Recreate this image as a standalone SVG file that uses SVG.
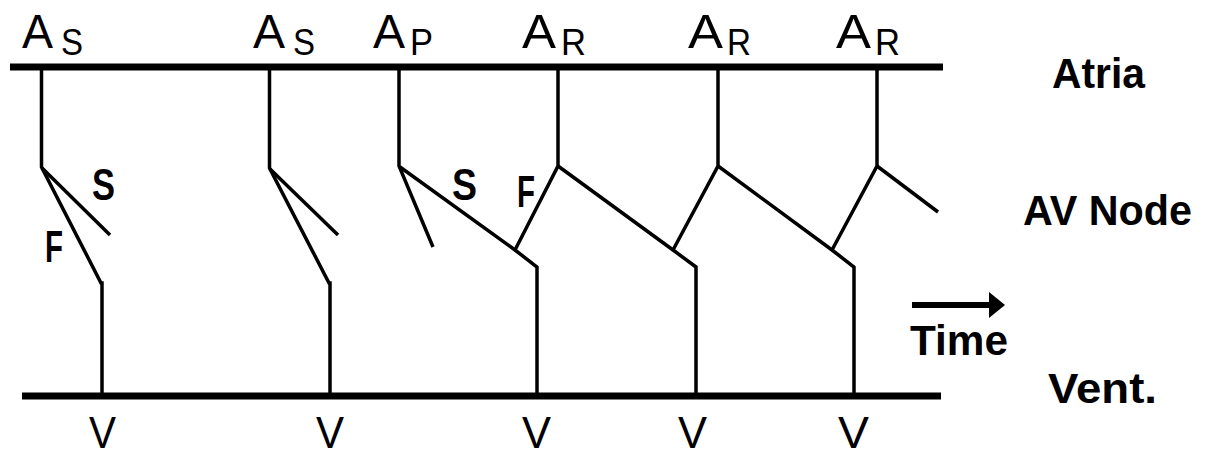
<svg xmlns="http://www.w3.org/2000/svg" width="1208" height="457" viewBox="0 0 1208 457">
<style>
.bar{stroke:#000;stroke-width:7;fill:none}
.ln{stroke:#000;stroke-width:3.5;fill:none;stroke-linejoin:miter}
.a{font-family:"Liberation Sans",Arial,sans-serif;font-size:48px;fill:#000}
.v{font-family:"Liberation Sans",Arial,sans-serif;font-size:44px;fill:#000}
.sub{font-family:"Liberation Sans",Arial,sans-serif;font-size:37px;fill:#000}
.lb{font-family:"Liberation Sans",Arial,sans-serif;font-size:43px;font-weight:bold;fill:#000}
.sf{font-family:"Liberation Sans",Arial,sans-serif;font-size:44px;font-weight:bold;fill:#000}
</style>
<rect width="1208" height="457" fill="#fff"/>
<g id="atria"><line class="bar" x1="10" y1="67" x2="943" y2="67"/><text class="lb" x="1052" y="88" textLength="93" lengthAdjust="spacingAndGlyphs">Atria</text></g>
<g id="vent"><line class="bar" x1="22" y1="396" x2="941" y2="396"/><text class="lb" x="1048" y="403" textLength="109" lengthAdjust="spacingAndGlyphs">Vent.</text></g>
<g id="avnode"><text class="lb" x="1023" y="225" textLength="169" lengthAdjust="spacingAndGlyphs">AV Node</text></g>
<g id="time">
<line x1="912" y1="305" x2="992" y2="305" stroke="#000" stroke-width="6"/>
<polygon points="989,292 1005,305 989,318" fill="#000"/>
<text class="lb" x="910" y="355" textLength="98" lengthAdjust="spacingAndGlyphs">Time</text>
</g>
<g id="labels-top">
<text class="a" x="22" y="48" textLength="31" lengthAdjust="spacingAndGlyphs">A</text><text class="sub" x="61" y="55" textLength="22" lengthAdjust="spacingAndGlyphs">S</text>
<text class="a" x="253" y="48" textLength="32" lengthAdjust="spacingAndGlyphs">A</text><text class="sub" x="293" y="55" textLength="22" lengthAdjust="spacingAndGlyphs">S</text>
<text class="a" x="373" y="48" textLength="32" lengthAdjust="spacingAndGlyphs">A</text><text class="sub" x="410" y="55" textLength="23" lengthAdjust="spacingAndGlyphs">P</text>
<text class="a" x="522" y="48" textLength="34" lengthAdjust="spacingAndGlyphs">A</text><text class="sub" x="561" y="55" textLength="25" lengthAdjust="spacingAndGlyphs">R</text>
<text class="a" x="688" y="48" textLength="35" lengthAdjust="spacingAndGlyphs">A</text><text class="sub" x="727" y="55" textLength="24" lengthAdjust="spacingAndGlyphs">R</text>
<text class="a" x="836" y="48" textLength="35" lengthAdjust="spacingAndGlyphs">A</text><text class="sub" x="875" y="55" textLength="25" lengthAdjust="spacingAndGlyphs">R</text>
</g>
<g id="labels-v">
<text class="v" x="89" y="447.5" textLength="27" lengthAdjust="spacingAndGlyphs">V</text>
<text class="v" x="316" y="447.5" textLength="28" lengthAdjust="spacingAndGlyphs">V</text>
<text class="v" x="522" y="447.5" textLength="29" lengthAdjust="spacingAndGlyphs">V</text>
<text class="v" x="678" y="447.5" textLength="29" lengthAdjust="spacingAndGlyphs">V</text>
<text class="v" x="838" y="447.5" textLength="31" lengthAdjust="spacingAndGlyphs">V</text>
</g>
<g id="labels-sf">
<text class="sf" x="92" y="200" textLength="23" lengthAdjust="spacingAndGlyphs">S</text>
<text class="sf" x="45" y="262" textLength="18" lengthAdjust="spacingAndGlyphs">F</text>
<text class="sf" x="452" y="200" textLength="25" lengthAdjust="spacingAndGlyphs">S</text>
<text class="sf" x="517" y="207" textLength="18" lengthAdjust="spacingAndGlyphs">F</text>
</g>
<g id="connectors">
<polyline class="ln" points="41.5,67 41.5,167 101,283 102,283 102,396"/>
<line class="ln" x1="42" y1="168" x2="110" y2="235"/>
<polyline class="ln" points="269.5,67 269.5,168 329,283 330,283 330,396"/>
<line class="ln" x1="270" y1="169" x2="338" y2="235"/>
<polyline class="ln" points="399,67 399,166 433,247"/>
<polyline class="ln" points="400,167 515,250 537,267 537,396"/>
<polyline class="ln" points="558,67 558,166 515,250"/>
<polyline class="ln" points="558,166 673,250 696,267 696,396"/>
<polyline class="ln" points="718,67 718,166 673,250"/>
<polyline class="ln" points="718,166 832,250 854,267 854,396"/>
<polyline class="ln" points="877,67 877,166 832,250"/>
<line class="ln" x1="877" y1="166" x2="938" y2="212"/>
</g>
</svg>
